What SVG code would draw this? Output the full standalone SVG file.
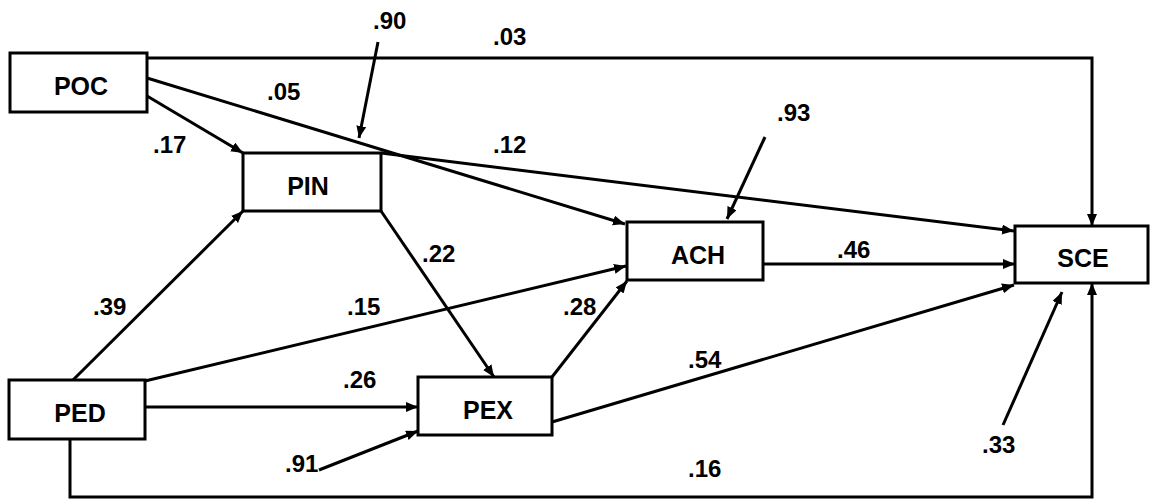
<svg xmlns="http://www.w3.org/2000/svg" width="1157" height="503" viewBox="0 0 1157 503">
<style>
.box{fill:#fff;stroke:#000;stroke-width:3}
.nt{font-family:"Liberation Sans",Arial,sans-serif;font-size:25px;font-weight:bold;text-anchor:middle;fill:#000}
.lb{font-family:"Liberation Sans",Arial,sans-serif;font-size:24px;font-weight:bold;fill:#000}
.c{fill:none;stroke:#000;stroke-width:3;marker-end:url(#ah)}
</style>
<defs>
<marker id="ah" markerUnits="userSpaceOnUse" markerWidth="14" markerHeight="12" refX="12" refY="5" orient="auto">
<path d="M0,0 L12,5 L0,10 Z" fill="#000"/>
</marker>
</defs>
<rect width="1157" height="503" fill="#fff"/>
<g id="connectors">
<path class="c" d="M147,58 H1092 V226"/>
<path class="c" d="M147,78 L625,224"/>
<path class="c" d="M147,96 L243,153"/>
<path class="c" d="M381,153 L1014,231"/>
<path class="c" d="M378,42 L359,138"/>
<path class="c" d="M765,137 L727,219"/>
<path class="c" d="M763,264 L1015,264"/>
<path class="c" d="M73,380 L243,211"/>
<path class="c" d="M145,381 L626,266"/>
<path class="c" d="M145,407 L418,407"/>
<path class="c" d="M381,211 L494,377"/>
<path class="c" d="M552,377 L627,281"/>
<path class="c" d="M552,422 L1014,285"/>
<path class="c" d="M319,470 L418,431"/>
<path class="c" d="M70,439 V497 H1092 V283"/>
<path class="c" d="M1003,425 L1062,292"/>
</g>
<g id="labels">
<text class="lb" x="373" y="29">.90</text>
<text class="lb" x="493" y="45">.03</text>
<text class="lb" x="267" y="100">.05</text>
<text class="lb" x="153" y="153">.17</text>
<text class="lb" x="493" y="153">.12</text>
<text class="lb" x="777" y="121">.93</text>
<text class="lb" x="837" y="258">.46</text>
<text class="lb" x="422" y="262">.22</text>
<text class="lb" x="93" y="315">.39</text>
<text class="lb" x="347" y="315">.15</text>
<text class="lb" x="563" y="315">.28</text>
<text class="lb" x="688" y="368">.54</text>
<text class="lb" x="343" y="388">.26</text>
<text class="lb" x="982" y="453">.33</text>
<text class="lb" x="285" y="472">.91</text>
<text class="lb" x="688" y="477">.16</text>
</g>
<g id="POC"><rect class="box" x="10" y="53" width="137" height="59"/><text class="nt" x="81" y="95">POC</text></g>
<g id="PIN"><rect class="box" x="243" y="153" width="138" height="58"/><text class="nt" x="308" y="195">PIN</text></g>
<g id="PED"><rect class="box" x="9" y="380" width="136" height="59"/><text class="nt" x="80" y="422">PED</text></g>
<g id="PEX"><rect class="box" x="418" y="377" width="134" height="58"/><text class="nt" x="488" y="419">PEX</text></g>
<g id="ACH"><rect class="box" x="627" y="222" width="136" height="58"/><text class="nt" x="698" y="264">ACH</text></g>
<g id="SCE"><rect class="box" x="1015" y="226" width="133" height="57"/><text class="nt" x="1083" y="267">SCE</text></g>
</svg>
